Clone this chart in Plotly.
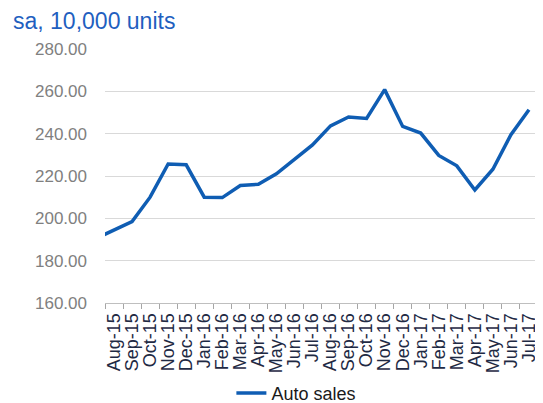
import plotly.graph_objects as go

# Data (Jul-15 lies just outside the visible axis range; its segment enters from the left edge)
months = ["Jul-15", "Aug-15", "Sep-15", "Oct-15", "Nov-15", "Dec-15", "Jan-16", "Feb-16",
          "Mar-16", "Apr-16", "May-16", "Jun-16", "Jul-16", "Aug-16", "Sep-16", "Oct-16",
          "Nov-16", "Dec-16", "Jan-17", "Feb-17", "Mar-17", "Apr-17", "May-17", "Jun-17", "Jul-17"]
auto_sales = [190.5, 194.5, 198.5, 210.0, 225.7, 225.3, 210.0, 209.8,
              215.5, 216.1, 221.0, 227.8, 234.7, 243.7, 247.9, 247.2,
              260.8, 243.4, 240.3, 229.7, 224.8, 213.4, 223.2, 239.5, 251.3]
y_ticks = [160, 180, 200, 220, 240, 260, 280]
y_tick_labels = ["160.00", "180.00", "200.00", "220.00", "240.00", "260.00", "280.00"]

FONT = "Liberation Sans, Arial, sans-serif"

# the page adds an 8px body margin, so the figure is sized/positioned to compensate
fig = go.Figure()
fig.add_trace(go.Scatter(
    x=months, y=auto_sales, mode="lines", name="Auto sales",
    line=dict(color="#0F5DB3", width=3.5),
))

fig.update_layout(
    width=535, height=395,
    margin=dict(l=97, r=5, t=41, b=100, autoexpand=False),
    paper_bgcolor="white", plot_bgcolor="white",
    font=dict(family=FONT),
    title=dict(text="sa, 10,000 units", x=5/535, xanchor="left", xref="container",
               y=1-12.5/395, yanchor="middle", yref="container",
               font=dict(family=FONT, size=23, color="#1F5FBF")),
    showlegend=True,
    legend=dict(orientation="h", x=0.442, xanchor="center", y=-0.356, yanchor="middle",
                font=dict(family=FONT, size=18, color="#1A1A1A"),
                bgcolor="rgba(0,0,0,0)"),
    xaxis=dict(type="category", range=[0.5, 24.5], tickangle=-90,
               tickmode="array", tickvals=months, ticktext=months,
               tickson="boundaries", ticks="outside", ticklen=5, tickcolor="#A6A6A6",
               showline=True, linecolor="#BFBFBF", linewidth=1, automargin=False,
               ticklabelstandoff=2,
               showgrid=False, tickfont=dict(family=FONT, size=18, color="#1F2A44")),
    yaxis=dict(range=[160, 280], tickvals=y_ticks, ticktext=y_tick_labels,
               showgrid=True, gridcolor="#D9D9D9", gridwidth=1, zeroline=False,
               showline=False, ticks="", ticklabelstandoff=17, automargin=False,
               tickfont=dict(family=FONT, size=17, color="#808080")),
)

fig.write_html("out.html")
